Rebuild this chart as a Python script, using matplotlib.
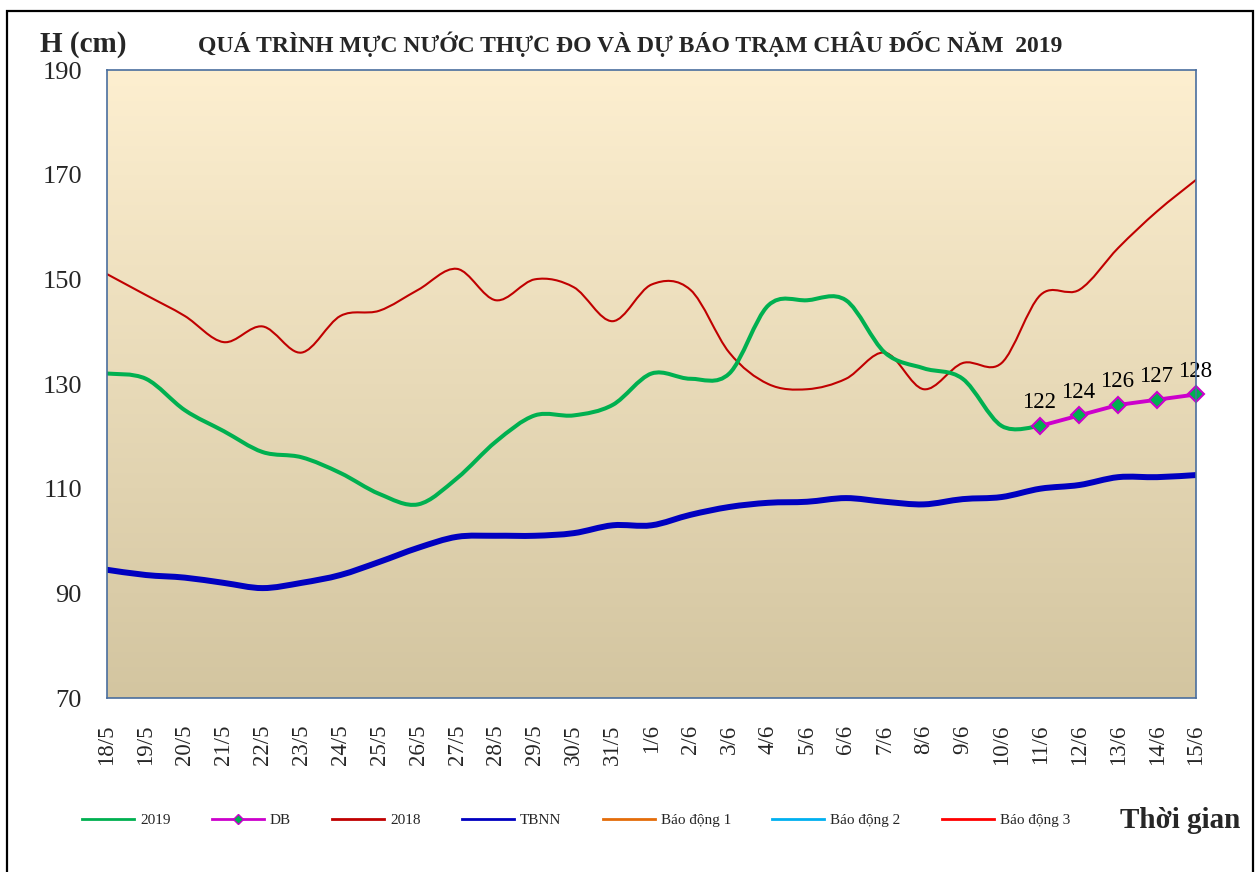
import numpy as np
import matplotlib
matplotlib.use("Agg")
import matplotlib.pyplot as plt
from matplotlib.path import Path
from matplotlib.patches import PathPatch, Rectangle
from matplotlib.lines import Line2D

plt.rcParams['font.family'] = ['Liberation Serif', 'DejaVu Serif']

dates = ["18/5", "19/5", "20/5", "21/5", "22/5", "23/5", "24/5", "25/5", "26/5", "27/5",
         "28/5", "29/5", "30/5", "31/5", "1/6", "2/6", "3/6", "4/6", "5/6", "6/6",
         "7/6", "8/6", "9/6", "10/6", "11/6", "12/6", "13/6", "14/6", "15/6"]

h2019 = [132, 131, 125, 121, 117, 116, 113, 109, 107, 112,
         119, 124, 124, 126, 132, 131, 132, 145, 146, 146,
         136, 133, 131, 122, 122]
db_dates = ["11/6", "12/6", "13/6", "14/6", "15/6"]
db = [122, 124, 126, 127, 128]
h2018 = [151, 147, 143, 138, 141, 136, 143, 144, 148, 152,
         146, 150, 148.5, 142, 149, 148, 136, 130, 129, 131,
         136, 129, 134, 134, 147, 148, 156, 163, 169]
tbnn = [94.5, 93.5, 93, 92, 91, 92, 93.5, 96, 98.7, 100.8,
        101, 101, 101.5, 103, 103, 105, 106.5, 107.3, 107.5, 108.2,
        107.5, 107, 108, 108.4, 110, 110.7, 112.2, 112.2, 112.6]
bd1 = [350] * len(dates)
bd2 = [400] * len(dates)
bd3 = [450] * len(dates)

yticks = [70, 90, 110, 130, 150, 170, 190]

W, H = 1256, 872
fig = plt.figure(figsize=(W / 100, H / 100), dpi=100)
fig.patch.set_facecolor('white')
ax = fig.add_axes([107 / W, 1 - 698 / H, (1196 - 107) / W, (698 - 70) / H])

x = np.arange(len(dates))
ax.set_xlim(0, len(dates) - 1)
ax.set_ylim(70, 190)

# gradient background
top = np.array([253, 239, 208]) / 255
bot = np.array([211, 197, 160]) / 255
t = np.linspace(0, 1, 256)[:, None]
grad = (top[None, :] * (1 - t) + bot[None, :] * t)[:, None, :]
ax.imshow(grad, aspect='auto', extent=[0, len(dates) - 1, 70, 190], origin='upper', zorder=0)


def smooth_path(xs, ys):
    pts = np.column_stack([xs, ys]).astype(float)
    n = len(pts)
    verts = [pts[0]]
    codes = [Path.MOVETO]
    for i in range(n - 1):
        p0 = pts[i - 1] if i > 0 else pts[i]
        p1 = pts[i]
        p2 = pts[i + 1]
        p3 = pts[i + 2] if i + 2 < n else pts[i + 1]
        c1 = p1 + (p2 - p0) / 6.0
        c2 = p2 - (p3 - p1) / 6.0
        verts += [c1, c2, p2]
        codes += [Path.CURVE4] * 3
    return Path(verts, codes)


def add_smooth(xs, ys, color, lw, z):
    ax.add_patch(PathPatch(smooth_path(xs, ys), fill=False, edgecolor=color, lw=lw,
                           zorder=z, capstyle='round', joinstyle='round'))


add_smooth(x, tbnn, '#0000C0', 4.3, 3)
add_smooth(x, h2018, '#C00000', 1.5, 4)
add_smooth(x[:len(h2019)], h2019, '#00B050', 2.9, 5)
for arr, c in [(bd1, '#E46C0A'), (bd2, '#00B0F0'), (bd3, '#FF0000')]:
    ax.plot(x, arr, color=c, lw=2, zorder=2)

db_x = [dates.index(d) for d in db_dates]
ax.plot(db_x, db, color='#CC00CC', lw=2.8, marker='D', markersize=8,
        markerfacecolor='#00B050', markeredgecolor='#CC00CC', markeredgewidth=1.5,
        zorder=6, clip_on=False)
for xi, v in zip(db_x, db):
    ax.annotate(str(v), (xi, v), xytext=(-1, 9), textcoords='offset points',
                ha='center', va='bottom', fontsize=16.5, color='black', zorder=7,
                annotation_clip=False)

ax.set_yticks(yticks)
ax.set_yticklabels([str(v) for v in yticks], fontsize=19, color='#262626')
ax.set_xticks(x)
ax.set_xticklabels(dates, rotation=90, fontsize=16.5, color='#262626', va='top', ha='center')
ax.tick_params(axis='both', length=0)
ax.tick_params(axis='y', pad=18)
ax.tick_params(axis='x', pad=19)
for s in ax.spines.values():
    s.set_color('#4A6E9E')
    s.set_linewidth(1.2)
    s.set_zorder(8)

fig.text(40 / W, 1 - 44 / H, "H (cm)", fontsize=21, fontweight='bold', ha='left', va='center',
         color='#262626')
fig.text(630 / W, 1 - 44 / H, "QUÁ TRÌNH MỰC NƯỚC THỰC ĐO VÀ DỰ BÁO TRẠM CHÂU ĐỐC NĂM  2019",
         fontsize=17, fontweight='bold', ha='center', va='center', color='#262626')
fig.text(1240 / W, 1 - 820 / H, "Thời gian", fontsize=21, fontweight='bold', ha='right',
         va='center', color='#262626')

handles = [
    Line2D([], [], color='#00B050', lw=2),
    Line2D([], [], color='#CC00CC', lw=2, marker='D', markersize=5,
           markerfacecolor='#00B050', markeredgecolor='#CC00CC'),
    Line2D([], [], color='#C00000', lw=2),
    Line2D([], [], color='#0000C0', lw=2),
    Line2D([], [], color='#E46C0A', lw=2),
    Line2D([], [], color='#00B0F0', lw=2),
    Line2D([], [], color='#FF0000', lw=2),
]
labels = ["2019", "DB", "2018", "TBNN", "Báo động 1", "Báo động 2", "Báo động 3"]
leg = fig.legend(handles, labels, loc='center left', bbox_to_anchor=(82 / W, 1 - 820 / H),
                 ncol=7, frameon=False, fontsize=11, handlelength=3.4, handletextpad=0.4,
                 columnspacing=2.7, borderpad=0, borderaxespad=0)
for txt in leg.get_texts():
    txt.set_color('#262626')

fig.patches.append(Rectangle((7 / W, -0.01), (1253 - 7) / W, 1 - 11 / H + 0.01,
                             transform=fig.transFigure, fill=False, ec='black', lw=1.6))

fig.savefig("out.png", dpi=100, facecolor='white')
